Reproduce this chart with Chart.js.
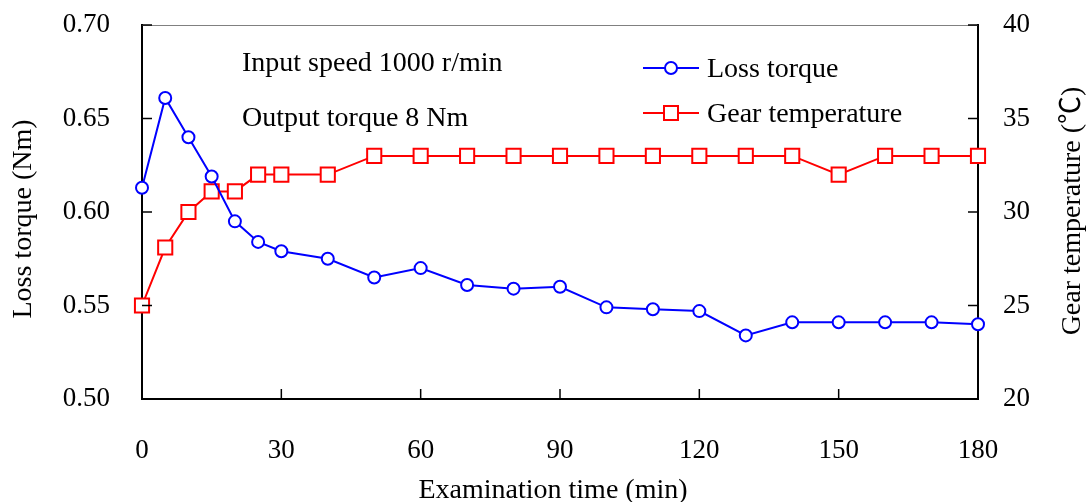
<!DOCTYPE html>
<html>
<head>
<meta charset="utf-8">
<script src="https://cdn.jsdelivr.net/npm/chart.js@4.4.0/dist/chart.umd.min.js"></script>
<style>
body { margin: 0; background: #fff; }
#wrap { width: 1090px; height: 502px; }
</style>
</head>
<body>
<div id="wrap"><canvas id="gearChart" width="1090" height="502"></canvas></div>
<script>
// examination time (min)
const times = [0, 5, 10, 15, 20, 25, 30, 40, 50, 60, 70, 80, 90, 100, 110, 120, 130, 140, 150, 160, 170, 180];
// loss torque (Nm)
const lossTorque = [0.613, 0.661, 0.640, 0.619, 0.595, 0.584, 0.579, 0.575, 0.565, 0.570, 0.561,
    0.559, 0.560, 0.549, 0.548, 0.547, 0.534, 0.541, 0.541, 0.541, 0.541, 0.540];
// gear temperature (deg C)
const gearTemp = [25, 28.1, 30, 31.1, 31.1, 32, 32, 32, 33, 33, 33, 33, 33, 33, 33, 33, 33, 33, 32, 33, 33, 33];

const seriesNames = ["Loss torque", "Gear temperature"];
const notes = ["Input speed 1000 r/min", "Output torque 8 Nm"];
const xTitle = "Examination time (min)";
const yTitle = "Loss torque (Nm)";
const y1Title = "Gear temperature (\u2103)";

const serif = "'Liberation Serif', 'Times New Roman', 'Noto Sans CJK SC', serif";
const fontPx = 27;
const textPx = 28;

function pairs(ys)
{
    return times.map((t, i) => ({ x: t, y: ys[i] }));
}

const extras = {
    id: "extras",
    afterDraw(chart)
    {
        const c = chart.ctx;
        const a = chart.chartArea;
        const sx = chart.scales.x;
        const sy = chart.scales.y;
        const sy1 = chart.scales.y1;

        function seg(x1, y1, x2, y2)
        {
            c.beginPath();
            c.moveTo(x1, y1);
            c.lineTo(x2, y2);
            c.stroke();
        }

        c.save();
        // thin top frame
        c.strokeStyle = "#808080";
        c.lineWidth = 1;
        seg(a.left, a.top + 0.5, a.right, a.top + 0.5);

        // inward tick marks
        c.strokeStyle = "#000";
        c.lineWidth = 1.5;
        sy.ticks.forEach(t => {
            const y = sy.getPixelForValue(t.value);
            seg(a.left, y, a.left + 10, y);
        });
        sy1.ticks.forEach(t => {
            const y = sy1.getPixelForValue(t.value);
            seg(a.right - 10, y, a.right, y);
        });
        sx.ticks.forEach(t => {
            const x = sx.getPixelForValue(t.value);
            seg(x, a.bottom, x, a.bottom - 10);
        });

        c.fillStyle = "#000";
        c.font = textPx + "px " + serif;
        c.textBaseline = "alphabetic";
        c.textAlign = "left";

        // notes
        c.fillText(notes[0], 242, 71);
        c.fillText(notes[1], 242, 126);

        // legend
        const ds = chart.data.datasets;
        const rows = [77, 122];
        ds.forEach((d, i) => {
            const ly = rows[i] - 9;
            c.strokeStyle = d.borderColor;
            c.lineWidth = 2;
            seg(643, ly, 699, ly);
            c.fillStyle = "#fff";
            c.beginPath();
            if (d.pointStyle === "circle")
            {
                c.arc(671, ly, 6, 0, Math.PI * 2);
            }
            else
            {
                c.rect(664, ly - 7, 14, 14);
            }
            c.fill();
            c.stroke();
            c.fillStyle = "#000";
            c.fillText(seriesNames[i], 707, rows[i]);
        });

        // axis titles
        c.textAlign = "center";
        c.fillText(xTitle, 553, 498);

        c.save();
        c.translate(31, 219);
        c.rotate(-Math.PI / 2);
        c.fillText(yTitle, 0, 0);
        c.restore();

        c.save();
        c.translate(1080, 211);
        c.rotate(-Math.PI / 2);
        c.fillText(y1Title, 0, 0);
        c.restore();

        c.restore();
    }
};

const tickFont = { family: serif, size: fontPx };

function fixV(width)
{
    return s => {
        s.width = width;
        s.paddingTop = 0;
        s.paddingBottom = 0;
    };
}

const ctx = document.getElementById("gearChart").getContext("2d");
const gearChart = new Chart(ctx, {
    type: "line",
    data: {
        datasets: [
            {
                label: seriesNames[0],
                data: pairs(lossTorque),
                yAxisID: "y",
                borderColor: "#0000ff",
                backgroundColor: "#ffffff",
                borderWidth: 2,
                pointStyle: "circle",
                pointRadius: 6,
                pointBorderWidth: 2,
                tension: 0,
                clip: false
            },
            {
                label: seriesNames[1],
                data: pairs(gearTemp),
                yAxisID: "y1",
                borderColor: "#ff0000",
                backgroundColor: "#ffffff",
                borderWidth: 2,
                pointStyle: "rect",
                pointRadius: 10,
                pointBorderWidth: 2,
                tension: 0,
                clip: false
            }
        ]
    },
    options: {
        responsive: false,
        animation: false,
        layout: { padding: { top: 25, left: 0, right: 0, bottom: 0 } },
        plugins: {
            legend: { display: false },
            tooltip: { enabled: false }
        },
        scales: {
            x: {
                type: "linear",
                min: 0,
                max: 180,
                afterFit: s => {
                    s.height = 103;
                    s.paddingLeft = 0;
                    s.paddingRight = 0;
                },
                ticks: { stepSize: 30, font: tickFont, color: "#000", padding: 36, maxRotation: 0 },
                grid: { drawOnChartArea: false, drawTicks: false },
                border: { color: "#000", width: 2 }
            },
            y: {
                position: "left",
                min: 0.5,
                max: 0.7,
                afterFit: fixV(142),
                ticks: {
                    stepSize: 0.05,
                    font: tickFont,
                    color: "#000",
                    padding: 32,
                    callback: v => v.toFixed(2)
                },
                grid: { drawOnChartArea: false, drawTicks: false },
                border: { color: "#000", width: 2 }
            },
            y1: {
                position: "right",
                min: 20,
                max: 40,
                afterFit: fixV(112),
                ticks: { stepSize: 5, font: tickFont, color: "#000", padding: 25 },
                grid: { drawOnChartArea: false, drawTicks: false },
                border: { color: "#000", width: 2 }
            }
        }
    },
    plugins: [extras]
});
</script>
</body>
</html>
